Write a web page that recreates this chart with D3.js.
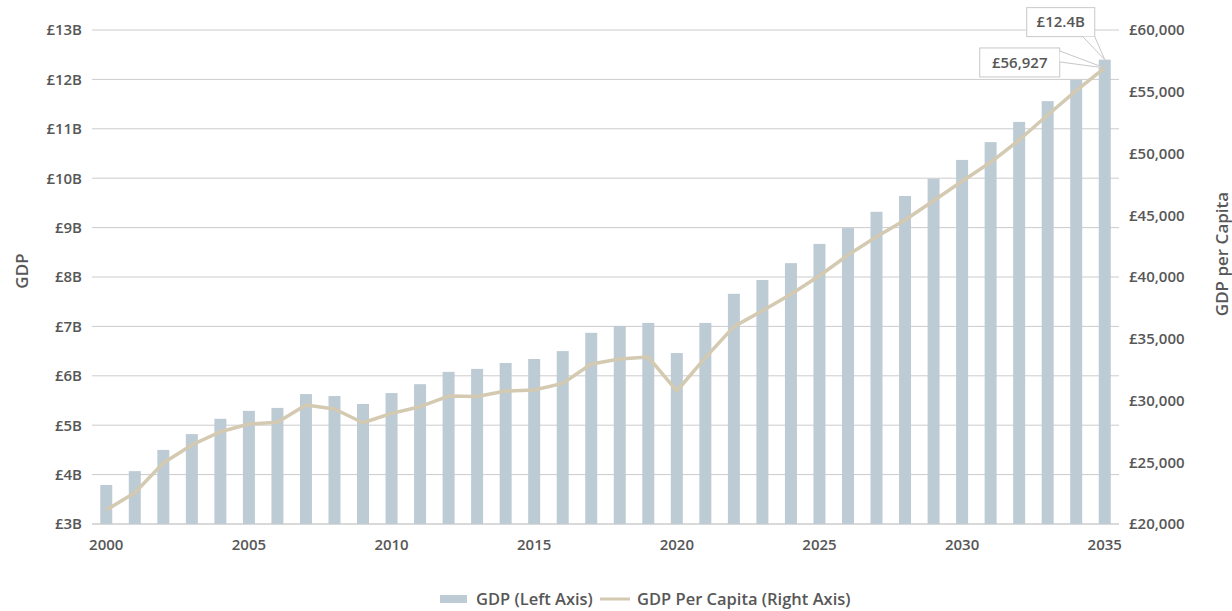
<!DOCTYPE html>
<html>
<head>
<meta charset="utf-8">
<script src="https://cdn.jsdelivr.net/npm/d3@7/dist/d3.min.js"></script>
<style>
  html, body { margin: 0; padding: 0; background: #fff; }
  svg { display: block; font-family: "Open Sans", Lato, sans-serif; }
  .lbl { fill: #575757; font-weight: 600; font-size: 15px; }
  .title { fill: #575757; font-weight: 600; font-size: 17px; }
  .legend { fill: #575757; font-weight: 600; font-size: 16.5px; }
</style>
</head>
<body>
<svg id="chart" width="1232" height="611"></svg>
<script>
// Years on the category axis
const years = d3.range(2000, 2036);

// GDP, £ billions (left axis, bars)
const gdp = [3.79, 4.07, 4.50, 4.82, 5.13, 5.29, 5.35, 5.63, 5.59, 5.43,
             5.65, 5.83, 6.08, 6.14, 6.26, 6.34, 6.50, 6.87, 7.01, 7.07,
             6.46, 7.07, 7.66, 7.94, 8.28, 8.67, 8.99, 9.32, 9.64, 9.99,
             10.37, 10.73, 11.14, 11.56, 11.99, 12.4];

// GDP per capita, £ (right axis, line)
const gdpPerCapita = [21130, 22530, 24940, 26400, 27470, 28100, 28230, 29640, 29310, 28200,
                      28960, 29500, 30360, 30330, 30770, 30850, 31390, 32960, 33360, 33520,
                      30770, 33470, 35980, 37270, 38600, 40100, 41780, 43260, 44620, 46180,
                      47750, 49290, 51090, 53120, 55090, 56927];

// Axis ticks
const leftTicks = [3, 4, 5, 6, 7, 8, 9, 10, 11, 12, 13];
const rightTicks = [20000, 25000, 30000, 35000, 40000, 45000, 50000, 55000, 60000];
const xTickYears = [2000, 2005, 2010, 2015, 2020, 2025, 2030, 2035];

const seriesNames = ["GDP (Left Axis)", "GDP Per Capita (Right Axis)"];
const barColor = "#bccbd4";
const lineColor = "#d4c9b1";

const svg = d3.select("#chart");
const margin = { left: 92, right: 1119, top: 30, bottom: 524 };

const x = d3.scaleBand().domain(years).range([margin.left, margin.right])
  .paddingInner(0.58).paddingOuter(0.29);
const yL = d3.scaleLinear().domain([3, 13]).range([margin.bottom, margin.top]);
const yR = d3.scaleLinear().domain([20000, 60000]).range([margin.bottom, margin.top]);

// Gridlines from the left axis
svg.append("g").selectAll("line").data(leftTicks).join("line")
  .attr("x1", margin.left).attr("x2", margin.right)
  .attr("y1", d => yL(d)).attr("y2", d => yL(d))
  .attr("stroke", d => d === 3 ? "#d9d9d9" : "#cccccc")
  .attr("stroke-width", d => d === 3 ? 2 : 1);

// Drop the axis defaults so the page font applies
function styleAxis(g) {
  g.attr("font-family", null).attr("font-size", null);
  g.select(".domain").remove();
  g.selectAll("text").attr("class", "lbl").attr("fill", null);
}

// Left axis labels
const fmtB = d => "£" + d + "B";
svg.append("g").attr("transform", `translate(${margin.left},0)`)
  .call(d3.axisLeft(yL).tickValues(leftTicks).tickFormat(fmtB).tickSize(0).tickPadding(10))
  .call(styleAxis);

// Right axis labels
const fmtR = d => "£" + d3.format(",")(d);
svg.append("g").attr("transform", `translate(${margin.right},0)`)
  .call(d3.axisRight(yR).tickValues(rightTicks).tickFormat(fmtR).tickSize(0).tickPadding(10))
  .call(styleAxis);

// Bottom axis labels
svg.append("g").attr("transform", `translate(0,${margin.bottom})`)
  .call(d3.axisBottom(x).tickValues(xTickYears).tickSize(0).tickPadding(15))
  .call(styleAxis);

// Axis titles
svg.append("text").attr("class", "title")
  .attr("transform", `translate(28,${271}) rotate(-90)`)
  .attr("text-anchor", "middle").text("GDP");
svg.append("text").attr("class", "title")
  .attr("transform", `translate(1228,${254}) rotate(-90)`)
  .attr("text-anchor", "middle").text("GDP per Capita");

// Bars
svg.append("g").selectAll("rect").data(years).join("rect")
  .attr("x", (d) => x(d))
  .attr("width", x.bandwidth())
  .attr("y", (d, i) => yL(gdp[i]))
  .attr("height", (d, i) => yL(3) - yL(gdp[i]))
  .attr("fill", barColor);

// Per capita line
const line = d3.line()
  .x((d, i) => x(years[i]) + x.bandwidth() / 2)
  .y(d => yR(d));
svg.append("path").datum(gdpPerCapita)
  .attr("d", line)
  .attr("fill", "none")
  .attr("stroke", lineColor)
  .attr("stroke-width", 3.5)
  .attr("stroke-linejoin", "round");

// Callouts for the final year
const last = years.length - 1;
const cx = x(years[last]) + x.bandwidth() / 2;
const barTop = yL(gdp[last]);
const lineEnd = yR(gdpPerCapita[last]);

function callout(text, px, py, box, wedge) {
  const g = svg.append("g");
  // box: [x0, y0, x1, y1]; wedge: two base points on the box edge
  g.append("rect")
    .attr("x", box[0]).attr("y", box[1])
    .attr("width", box[2] - box[0]).attr("height", box[3] - box[1])
    .attr("fill", "#fff").attr("stroke", "#c8c8c8").attr("stroke-width", 1);
  g.append("path")
    .attr("d", `M${wedge[0][0]},${wedge[0][1]} L${px},${py} L${wedge[1][0]},${wedge[1][1]}`)
    .attr("fill", "#fff").attr("stroke", "#c8c8c8").attr("stroke-width", 1);
  g.append("text").attr("class", "lbl")
    .attr("x", (box[0] + box[2]) / 2).attr("y", (box[1] + box[3]) / 2)
    .attr("dy", "0.35em").attr("text-anchor", "middle").text(text);
}

callout("£" + gdp[last] + "B", cx, barTop,
  [cx - 78, barTop - 52, cx - 10, barTop - 23],
  [[cx - 22, barTop - 23], [cx - 10, barTop - 23]]);
callout("£" + d3.format(",")(gdpPerCapita[last]), cx, lineEnd,
  [cx - 125, lineEnd - 20, cx - 45, lineEnd + 9],
  [[cx - 45, lineEnd - 17], [cx - 45, lineEnd - 6]]);

// Legend
const lg = svg.append("g").attr("transform", "translate(0,599)");
lg.append("rect").attr("x", 440).attr("y", -4).attr("width", 27).attr("height", 8).attr("fill", barColor);
lg.append("text").attr("class", "legend").attr("x", 476).attr("dy", "0.35em").text(seriesNames[0]);
lg.append("line").attr("x1", 600).attr("x2", 630).attr("y1", 0).attr("y2", 0)
  .attr("stroke", lineColor).attr("stroke-width", 3);
lg.append("text").attr("class", "legend").attr("x", 637).attr("dy", "0.35em").text(seriesNames[1]);
</script>
</body>
</html>
